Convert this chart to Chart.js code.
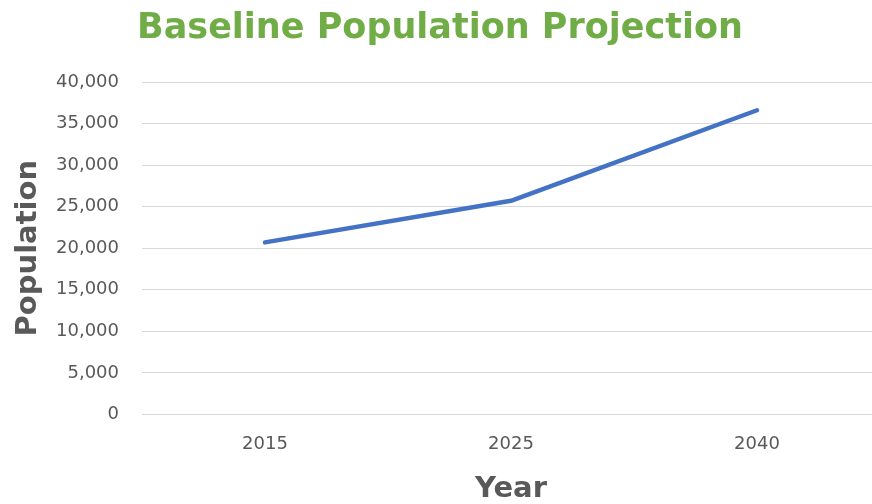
<!DOCTYPE html>
<html>
<head>
<meta charset="utf-8">
<script src="https://cdn.jsdelivr.net/npm/chart.js@4.4.1/dist/chart.umd.min.js"></script>
<style>
  html, body { margin: 0; padding: 0; overflow: hidden; background: #ffffff; }
  #wrap { width: 880px; height: 504px; }
</style>
</head>
<body>
<div id="wrap"><canvas id="c" width="880" height="504"></canvas></div>
<script>
const years = ['2015', '2025', '2040'];
const population = [20700, 25700, 36600];
const yTickMin = 0;
const yTickMax = 40000;
const yTickStep = 5000;
const chartTitle = 'Baseline Population Projection';
const xTitle = 'Year';
const yTitle = 'Population';

const grey = '#595959';

new Chart(document.getElementById('c'), {
  type: 'line',
  data: {
    labels: years,
    datasets: [{
      label: yTitle,
      data: population,
      borderColor: '#4472C4',
      backgroundColor: '#4472C4',
      borderWidth: 4.5,
      borderCapStyle: 'round',
      borderJoinStyle: 'round',
      pointRadius: 0,
      pointHoverRadius: 0,
      tension: 0,
      fill: false
    }]
  },
  options: {
    responsive: false,
    animation: false,
    devicePixelRatio: 1,
    layout: { padding: { left: 0, right: 0, top: 0, bottom: 0 } },
    plugins: {
      legend: { display: false },
      tooltip: { enabled: false },
      title: {
        display: true,
        text: chartTitle,
        color: '#70AD47',
        font: { family: 'DejaVu Sans', size: 35, weight: 'bold', lineHeight: 1.2 },
        padding: { top: 8, bottom: 32 }
      }
    },
    scales: {
      x: {
        type: 'category',
        offset: true,
        grid: { display: false, drawTicks: false },
        border: { display: false },
        ticks: {
          color: grey,
          font: { family: 'DejaVu Sans', size: 18 },
          padding: 19,
          maxRotation: 0
        },
        title: {
          display: true,
          text: xTitle,
          color: grey,
          font: { family: 'DejaVu Sans', size: 29, weight: 'bold', lineHeight: 1 },
          padding: { top: 1, bottom: 0 }
        }
      },
      y: {
        min: yTickMin,
        max: yTickMax,
        grid: { color: '#d9d9d9', lineWidth: 1, drawTicks: false },
        border: { display: false },
        ticks: {
          stepSize: yTickStep,
          color: grey,
          font: { family: 'DejaVu Sans', size: 18 },
          padding: 23,
          callback: (v) => Number(v).toLocaleString('en-US')
        },
        title: {
          display: true,
          text: yTitle,
          color: grey,
          font: { family: 'DejaVu Sans', size: 29, weight: 'bold', lineHeight: 1 },
          padding: { top: 14, bottom: -10 }
        }
      }
    }
  }
});
</script>
</body>
</html>
